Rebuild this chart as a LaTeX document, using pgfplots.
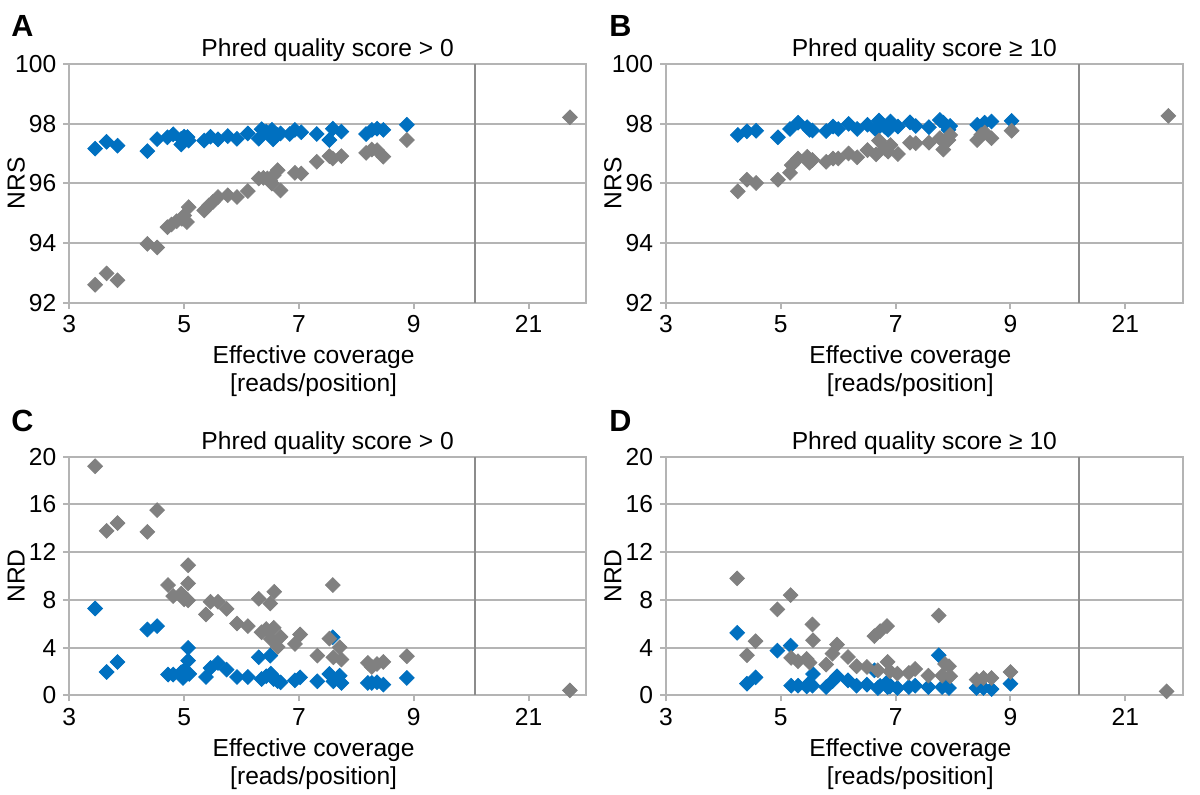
\documentclass[border=0pt]{standalone}
\usepackage{fontspec}
\setmainfont{Liberation Sans}
\usepackage{pgfplots}
\pgfplotsset{compat=1.18}
\definecolor{sblue}{HTML}{0070C0}
\definecolor{sgray}{HTML}{808080}
\definecolor{gridgray}{HTML}{B4B4B4}
\definecolor{sepgray}{HTML}{8C8C8C}
\newcommand{\lbl}{\fontsize{12.3}{13.7}\selectfont}
\pgfplotsset{
 panel/.style={
  scale only axis, width=258.35pt, height=119.4pt,
  xmin=3, xmax=12, xtick={3,5,7,9,11}, xticklabels={3,5,7,9,21},
  x filter/.expression={x>15 ? x-10 : x},
  extra x tick labels={},
  extra x tick style={grid=major, major grid style={draw=sepgray, line width=1pt}, tick style={draw=none}},
  ymajorgrids, major grid style={draw=gridgray, line width=1pt},
  axis line style={draw=gridgray, line width=1pt},
  tick style={draw=gridgray, line width=1pt},
  tick align=outside, major tick length=3pt, tick pos=left,
  tick label style={font=\lbl},
  /pgf/number format/assume math mode=true,
  every axis title/.style={font=\lbl, at={(axis description cs:0.5,1)}, anchor=base, yshift=3.6pt},
  xlabel={Effective coverage\\{[}reads/position{]}},
  xlabel style={font=\lbl, align=center, at={(axis description cs:0.5,0)}, anchor=north, inner sep=0pt, yshift=-21.5pt, xshift=-7pt},
  ylabel style={font=\lbl, at={(axis description cs:0,0.5)}, anchor=center, yshift=26.6pt},
 },
 bl/.style={only marks, mark=square*, color=sblue, mark size=2.6pt, mark options={rotate=45}},
 gr/.style={only marks, mark=square*, color=sgray, mark size=2.6pt, mark options={rotate=45}},
}
\begin{document}
\begin{tikzpicture}
\path[use as bounding box] (0,0) rectangle (600pt,397.5pt);
\node[anchor=base west, font=\fontsize{15.3}{18}\selectfont\bfseries, inner sep=0pt] at (5.5pt,379pt) {A};
\node[anchor=base west, font=\fontsize{15.3}{18}\selectfont\bfseries, inner sep=0pt] at (304.5pt,379pt) {B};
\node[anchor=base west, font=\fontsize{15.3}{18}\selectfont\bfseries, inner sep=0pt] at (5.5pt,181.6pt) {C};
\node[anchor=base west, font=\fontsize{15.3}{18}\selectfont\bfseries, inner sep=0pt] at (304.5pt,181.6pt) {D};
% ---------- A ----------
\begin{axis}[panel, at={(34.65pt,246.15pt)}, ymin=92, ymax=100, ytick={92,94,96,98,100},
  extra x ticks={10.07}, title={Phred quality score > 0}, ylabel={NRS}]
\addplot[bl] coordinates {(3.45,97.16) (3.65,97.39) (3.84,97.26) (4.36,97.08) (4.53,97.48) (4.71,97.54) (4.81,97.64) (4.95,97.49) (5.00,97.56) (4.95,97.30) (5.08,97.43) (5.06,97.55) (5.35,97.43) (5.46,97.56) (5.59,97.47) (5.76,97.58) (5.92,97.49) (6.11,97.67) (6.30,97.49) (6.35,97.81) (6.43,97.73) (6.53,97.79) (6.55,97.47) (6.62,97.62) (6.68,97.67) (6.84,97.65) (6.93,97.79) (7.04,97.71) (7.31,97.65) (7.53,97.45) (7.59,97.83) (7.74,97.73) (8.17,97.65) (8.27,97.79) (8.36,97.83) (8.47,97.79) (8.88,97.96)};
\addplot[gr] coordinates {(3.45,92.60) (3.65,92.98) (3.84,92.75) (4.36,93.97) (4.53,93.85) (4.71,94.53) (4.78,94.62) (4.87,94.73) (4.96,94.81) (5.00,94.92) (5.05,94.70) (5.08,95.20) (5.35,95.09) (5.43,95.26) (5.50,95.37) (5.59,95.54) (5.76,95.60) (5.92,95.54) (6.11,95.74) (6.30,96.16) (6.38,96.18) (6.45,96.16) (6.50,96.08) (6.53,95.99) (6.56,96.27) (6.63,96.44) (6.68,95.76) (6.93,96.35) (7.04,96.33) (7.31,96.72) (7.53,96.91) (7.59,96.83) (7.74,96.91) (8.17,97.02) (8.27,97.13) (8.36,97.11) (8.47,96.89) (8.88,97.45) (21.72,98.21)};
\end{axis}
% ---------- B ----------
\begin{axis}[panel, at={(333pt,246.15pt)}, ymin=92, ymax=100, ytick={92,94,96,98,100},
  extra x ticks={10.2}, title={Phred quality score ≥ 10}, ylabel={NRS}]
\addplot[bl] coordinates {(4.25,97.62) (4.41,97.74) (4.57,97.76) (4.95,97.54) (5.16,97.82) (5.30,98.03) (5.46,97.88) (5.50,97.79) (5.55,97.77) (5.79,97.75) (5.91,97.90) (6.00,97.82) (6.18,97.99) (6.33,97.82) (6.51,97.96) (6.66,97.79) (6.71,98.10) (6.81,97.90) (6.87,97.79) (6.91,98.07) (7.04,97.90) (7.25,98.04) (7.35,97.92) (7.58,97.88) (7.77,98.12) (7.83,98.03) (7.92,97.79) (7.95,97.92) (8.42,97.96) (8.55,98.03) (8.67,98.07) (9.02,98.09)};
\addplot[gr] coordinates {(4.25,95.73) (4.41,96.12) (4.57,96.01) (4.95,96.12) (5.16,96.35) (5.19,96.61) (5.30,96.83) (5.46,96.89) (5.50,96.69) (5.55,96.78) (5.79,96.72) (5.91,96.83) (6.00,96.83) (6.18,97.00) (6.33,96.87) (6.51,97.11) (6.66,96.97) (6.71,97.43) (6.81,97.17) (6.87,97.06) (6.91,97.28) (7.04,96.98) (7.25,97.36) (7.35,97.34) (7.58,97.36) (7.77,97.51) (7.83,97.13) (7.92,97.45) (7.95,97.62) (8.42,97.45) (8.49,97.62) (8.55,97.70) (8.67,97.51) (9.02,97.76) (21.75,98.26)};
\end{axis}
% ---------- C ----------
\begin{axis}[panel, at={(34.65pt,49.8pt)}, ymin=0, ymax=20, ytick={0,4,8,12,16,20},
  extra x ticks={10.07}, title={Phred quality score > 0}, ylabel={NRD}]
\addplot[bl] coordinates {(3.45,7.28) (3.65,1.96) (3.84,2.80) (4.36,5.52) (4.53,5.80) (4.72,1.74) (4.81,1.74) (4.95,1.93) (4.98,1.46) (5.00,2.10) (5.07,3.98) (5.07,2.91) (5.09,1.80) (5.38,1.54) (5.46,2.30) (5.59,2.72) (5.74,2.16) (5.92,1.54) (6.11,1.54) (6.30,3.19) (6.35,1.37) (6.43,1.60) (6.50,3.33) (6.51,1.82) (6.56,1.37) (6.63,1.20) (6.68,1.09) (6.93,1.26) (7.02,1.51) (7.32,1.18) (7.53,1.79) (7.59,4.87) (7.60,1.18) (7.71,1.65) (7.74,1.04) (8.20,1.04) (8.27,1.04) (8.36,1.10) (8.47,0.90) (8.88,1.46)};
\addplot[gr] coordinates {(3.45,19.19) (3.65,13.78) (3.84,14.43) (4.36,13.70) (4.53,15.52) (4.72,9.24) (4.81,8.32) (4.95,8.52) (5.00,8.04) (5.07,7.96) (5.07,10.90) (5.07,9.38) (4.97,8.30) (5.38,6.78) (5.46,7.84) (5.59,7.84) (5.74,7.25) (5.92,6.02) (6.11,5.80) (6.30,8.10) (6.35,5.29) (6.43,5.55) (6.50,7.70) (6.51,4.73) (6.56,5.66) (6.57,8.68) (6.63,4.06) (6.68,4.90) (6.93,4.31) (7.02,5.10) (7.32,3.33) (7.53,4.76) (7.59,9.24) (7.60,3.19) (7.71,4.03) (7.74,3.00) (8.20,2.72) (8.27,2.38) (8.36,2.63) (8.47,2.80) (8.88,3.28) (21.72,0.42)};
\end{axis}
% ---------- D ----------
\begin{axis}[panel, at={(333pt,49.8pt)}, ymin=0, ymax=20, ytick={0,4,8,12,16,20},
  extra x ticks={10.2}, title={Phred quality score ≥ 10}, ylabel={NRD}]
\addplot[bl] coordinates {(4.24,5.24) (4.41,0.98) (4.56,1.51) (4.94,3.75) (5.17,4.17) (5.18,0.81) (5.30,0.81) (5.45,0.75) (5.50,1.05) (5.55,0.81) (5.56,1.79) (5.79,0.70) (5.90,1.18) (5.98,1.60) (6.17,1.26) (6.32,0.81) (6.50,0.90) (6.63,2.10) (6.69,0.62) (6.73,0.80) (6.85,1.09) (6.86,0.70) (6.90,0.75) (7.03,0.62) (7.23,0.70) (7.34,0.81) (7.57,0.70) (7.75,3.36) (7.81,0.70) (7.86,0.90) (7.93,0.62) (8.41,0.62) (8.53,0.62) (8.67,0.53) (9.00,0.98)};
\addplot[gr] coordinates {(4.24,9.80) (4.41,3.36) (4.56,4.54) (4.94,7.20) (5.17,8.40) (5.18,3.14) (5.30,2.86) (5.45,3.05) (5.50,2.75) (5.55,5.94) (5.56,4.62) (5.79,2.58) (5.90,3.50) (5.98,4.26) (6.17,3.22) (6.32,2.44) (6.50,2.38) (6.63,4.96) (6.69,2.10) (6.73,5.38) (6.85,5.80) (6.86,2.80) (6.90,2.02) (7.03,1.82) (7.23,1.88) (7.34,2.21) (7.57,1.65) (7.75,6.69) (7.81,1.65) (7.86,2.63) (7.93,2.44) (7.95,1.60) (8.41,1.32) (8.53,1.46) (8.67,1.46) (9.00,1.96) (21.72,0.34)};
\end{axis}
\end{tikzpicture}
\end{document}
